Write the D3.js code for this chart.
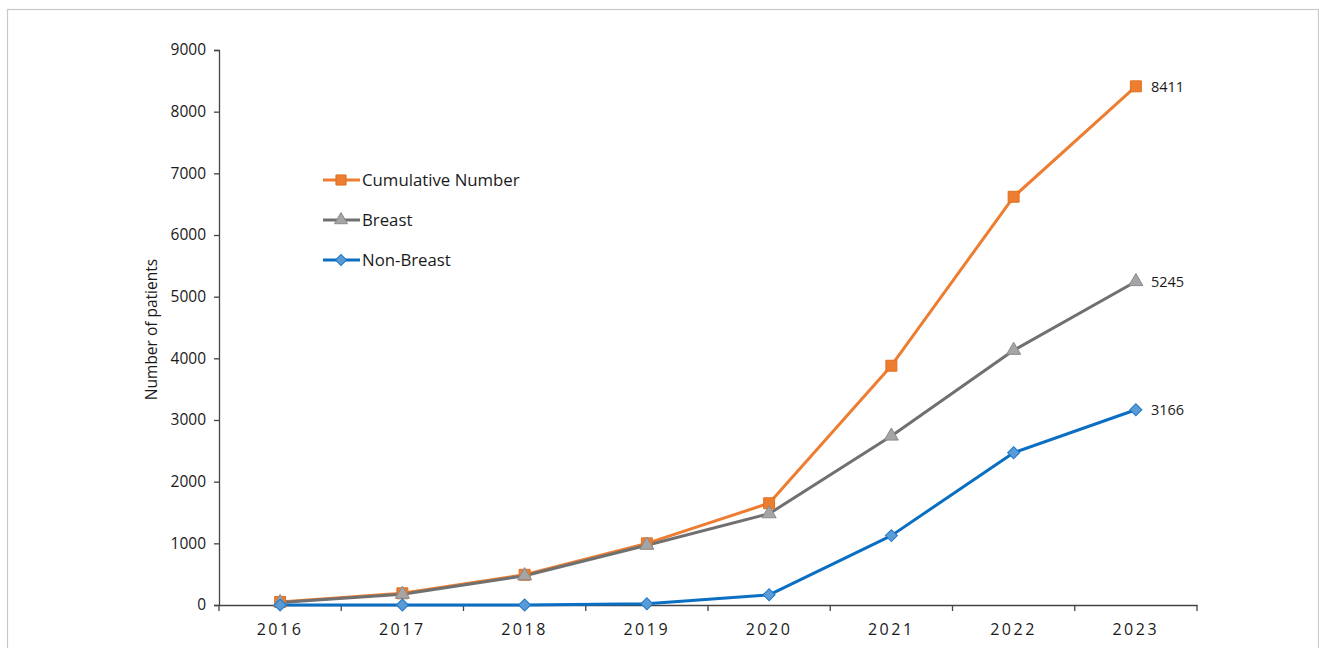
<!DOCTYPE html>
<html><head><meta charset="utf-8">
<script src="https://cdn.jsdelivr.net/npm/d3@7"></script>
<style>html,body{margin:0;padding:0;background:#fff;}svg{display:block;}</style>
</head><body>
<svg id="c" width="1319" height="648"></svg>
<script>
const years = ["2016","2017","2018","2019","2020","2021","2022","2023"];
const cumulative = [50, 190, 490, 1000, 1650, 3880, 6620, 8411];
const breast = [40, 175, 475, 970, 1480, 2740, 4130, 5245];
const nonBreast = [0, 0, 0, 20, 165, 1125, 2470, 3166];
const yTicks = [0,1000,2000,3000,4000,5000,6000,7000,8000,9000];
const seriesNames = ["Cumulative Number","Breast","Non-Breast"];

(function(){
const svg = d3.select("#c");
const font = "'Open Sans', 'Noto Sans', sans-serif";
const txt = "#1a1a1a";
svg.append("rect").attr("x",7.5).attr("y",9.5).attr("width",1311).attr("height",660)
  .attr("fill","#fff").attr("stroke","#c8c8c8").attr("stroke-width",1.2);

const mLeft=219, mRight=1197, mTop=50, mBottom=605;
const x = d3.scaleBand().domain(years).range([mLeft,mRight]);
const y = d3.scaleLinear().domain([0,9000]).range([mBottom,mTop]);
const cx = d => x(d)+x.bandwidth()/2;

const ya = svg.append("g").attr("transform",`translate(${mLeft},0)`)
  .call(d3.axisLeft(y).tickValues(yTicks).tickSize(5).tickPadding(8).tickFormat(d3.format("d")));
ya.select(".domain").attr("stroke","#444").attr("stroke-width",1.3);
ya.selectAll(".tick line").attr("stroke","#444").attr("stroke-width",1.3);
ya.selectAll("text").attr("font-family",font).attr("font-size",15.5).attr("fill",txt);

const xa = svg.append("g").attr("transform",`translate(0,${mBottom})`)
  .call(d3.axisBottom(x).tickSize(0).tickPadding(19));
xa.select(".domain").attr("stroke","#444").attr("stroke-width",1.3);
xa.selectAll("text").attr("font-family",font).attr("font-size",16).attr("fill",txt).attr("letter-spacing","2.6px");
const bounds = years.map(d=>x(d)).concat([mRight]);
xa.selectAll(".bt").data(bounds).join("line").attr("class","bt")
  .attr("x1",d=>d).attr("x2",d=>d).attr("y1",0).attr("y2",6)
  .attr("stroke","#444").attr("stroke-width",1.3);

svg.append("text").attr("transform",`translate(157,${(mTop+mBottom)/2+2}) rotate(-90)`)
  .attr("text-anchor","middle").attr("font-family",font).attr("font-size",15.5).attr("fill",txt)
  .text("Number of patients");

const series = [
  {name:seriesNames[0], vals:cumulative, line:"#ED7D31", fill:"#ED7D31", stroke:"#E0701F", shape:"square"},
  {name:seriesNames[1], vals:breast, line:"#707070", fill:"#A5A5A5", stroke:"#8a8a8a", shape:"triangle"},
  {name:seriesNames[2], vals:nonBreast, line:"#0A6FC2", fill:"#5B9BD5", stroke:"#1f77c9", shape:"diamond"}
];
const symType = {square:d3.symbolSquare, triangle:d3.symbolTriangle, diamond:d3.symbolSquare};
const symSize = {square:120, triangle:85, diamond:72};
const symRot = {square:0, triangle:0, diamond:45};

const line = d3.line().x((d,i)=>cx(years[i])).y(d=>y(d));
series.forEach(s=>{
  svg.append("path").datum(s.vals).attr("d",line).attr("fill","none")
    .attr("stroke",s.line).attr("stroke-width",3).attr("stroke-linejoin","round");
});
series.forEach(s=>{
  svg.append("g").selectAll("path").data(s.vals).join("path")
    .attr("transform",(d,i)=>`translate(${cx(years[i])},${y(d)}) rotate(${symRot[s.shape]})`)
    .attr("d",d3.symbol().type(symType[s.shape]).size(symSize[s.shape]))
    .attr("fill",s.fill).attr("stroke",s.stroke).attr("stroke-width",1);
  const last = s.vals[s.vals.length-1];
  svg.append("text").attr("x",cx(years[years.length-1])+15).attr("y",y(last)+5.5)
    .attr("font-family",font).attr("font-size",14.5).attr("fill",txt).text(last);
});

series.forEach((s,i)=>{
  const ly = 180 + i*40;
  const g = svg.append("g");
  g.append("line").attr("x1",323).attr("x2",360).attr("y1",ly).attr("y2",ly)
    .attr("stroke",s.line).attr("stroke-width",3);
  g.append("path").attr("transform",`translate(341,${ly}) rotate(${symRot[s.shape]})`)
    .attr("d",d3.symbol().type(symType[s.shape]).size(symSize[s.shape]*0.85))
    .attr("fill",s.fill).attr("stroke",s.stroke).attr("stroke-width",1);
  g.append("text").attr("x",362).attr("y",ly+6).attr("font-family",font)
    .attr("font-size",16.8).attr("fill",txt).text(s.name);
});
})();
</script>
</body></html>
